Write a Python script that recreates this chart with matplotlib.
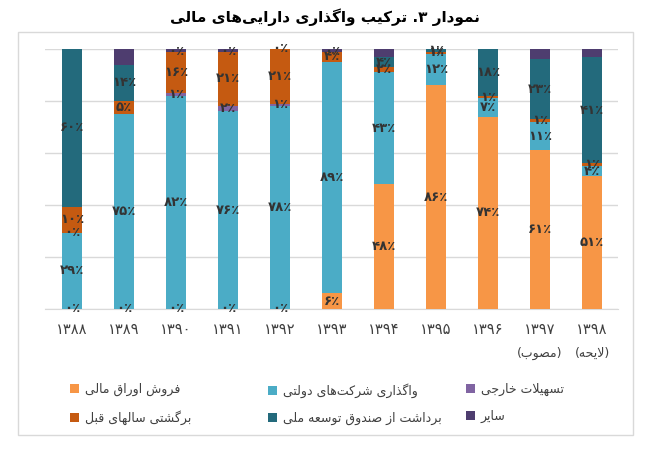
import re
import numpy as np
import matplotlib
matplotlib.use('Agg')
import matplotlib.pyplot as plt
from matplotlib.patches import Patch, Rectangle

# ---------------- data ----------------
years = ['۱۳۸۸', '۱۳۸۹', '۱۳۹۰', '۱۳۹۱', '۱۳۹۲', '۱۳۹۳', '۱۳۹۴', '۱۳۹۵', '۱۳۹۶', '۱۳۹۷', '۱۳۹۸']
year_notes = ['', '', '', '', '', '', '', '', '', '(مصوب)', '(لایحه)']
series_names = ['فروش اوراق مالی', 'واگذاری شرکت\u200cهای دولتی', 'تسهیلات خارجی',
                'برگشتی سالهای قبل', 'برداشت از صندوق توسعه ملی', 'سایر']
sales    = [0, 0, 0, 0, 0, 6, 48, 86, 74, 61, 51]
gov      = [29, 75, 82, 76, 78, 89, 43, 12, 7, 11, 4]
foreign  = [0, None, 1, 2, 1, None, None, None, None, None, None]
previous = [10, 5, 16, 21, 21, 4, 2, 1, 1, 1, 1]
ndf      = [60, 14, 0, 0, 0, 0, 4, 1, 18, 23, 41]
other    = [0, 6, 1, 1, 0, 1, 3, 0, 0, 4, 3]
title = 'نمودار ۳. ترکیب واگذاری دارایی\u200cهای مالی'

colors = ['#F79646', '#4BACC6', '#8064A2', '#C55A11', '#236A7C', '#4E3D6F']
show_labels = [True, True, True, True, True, False]

# ---------------- minimal Persian shaping ----------------
DUAL = {'ب': 0xFE8F, 'ت': 0xFE95, 'ث': 0xFE99, 'ج': 0xFE9D, 'ح': 0xFEA1, 'خ': 0xFEA5,
        'س': 0xFEB1, 'ش': 0xFEB5, 'ص': 0xFEB9, 'ض': 0xFEBD, 'ط': 0xFEC1, 'ظ': 0xFEC5,
        'ع': 0xFEC9, 'غ': 0xFECD, 'ف': 0xFED1, 'ق': 0xFED5, 'ل': 0xFEDD, 'م': 0xFEE1,
        'ن': 0xFEE5, 'ه': 0xFEE9, 'پ': 0xFB56, 'چ': 0xFB7A, 'ک': 0xFB8E, 'گ': 0xFB92,
        'ی': 0xFBFC}
RIGHT = {'ا': 0xFE8D, 'آ': 0xFE81, 'د': 0xFEA9, 'ذ': 0xFEAB, 'ر': 0xFEAD, 'ز': 0xFEAF,
         'ژ': 0xFB8A, 'و': 0xFEED, 'ة': 0xFE93}


def shape(s):
    s = s.replace('ي', 'ی').replace('ك', 'ک')
    out = []
    n = len(s)
    i = 0
    while i < n:
        c = s[i]
        prev = s[i - 1] if i > 0 else ''
        cp = prev in DUAL
        if c == 'ل' and i + 1 < n and s[i + 1] in ('ا', 'آ'):
            lig = {'ا': (0xFEFB, 0xFEFC), 'آ': (0xFEF5, 0xFEF6)}[s[i + 1]]
            out.append(chr(lig[1] if cp else lig[0]))
            i += 2
            continue
        if c in DUAL:
            nxt = s[i + 1] if i + 1 < n else ''
            cn = nxt in DUAL or nxt in RIGHT
            form = 3 if (cp and cn) else 1 if cp else 2 if cn else 0
            out.append(chr(DUAL[c] + form))
        elif c in RIGHT:
            out.append(chr(RIGHT[c] + (1 if cp else 0)))
        elif c == '\u200c':
            pass
        else:
            out.append(c)
        i += 1
    return ''.join(out)


def fa(s):
    rev = shape(s)[::-1]
    rev = re.sub(r'[0-9۰-۹]+', lambda m: m.group(0)[::-1], rev)
    return rev.translate(str.maketrans('()', ')('))


def fa_num(v):
    d = str(int(round(v))).translate(str.maketrans('0123456789', '۰۱۲۳۴۵۶۷۸۹'))
    return d + '٪'


plt.rcParams['font.family'] = ['DejaVu Sans']

fig = plt.figure(figsize=(6.5, 4.5), dpi=100)
ax = fig.add_axes([45 / 650, 1 - 309 / 450, (618 - 45) / 650, 260 / 450])

series = [sales, gov, foreign, previous, ndf, other]
arr = np.array([[np.nan if v is None else v for v in s] for s in series], dtype=float)
totals = np.nansum(arr, axis=0)
x = np.arange(len(years))
bottom = np.zeros(len(years))
for k, s in enumerate(arr):
    h = np.nan_to_num(s) / totals * 100
    ax.bar(x, h, bottom=bottom, width=0.4, color=colors[k], zorder=3, linewidth=0)
    if show_labels[k]:
        for i in range(len(years)):
            if not np.isnan(s[i]):
                ax.text(x[i], bottom[i] + h[i] / 2, fa_num(s[i]), ha='center', va='center',
                        fontsize=9.5, fontweight='bold', color='#333333', zorder=5)
    bottom += h

ax.set_xlim(-0.52, 10.5)
ax.set_ylim(0, 100)
ax.set_yticks([0, 20, 40, 60, 80, 100])
ax.yaxis.grid(True, color='#D9D9D9', linewidth=1, zorder=0)
ax.tick_params(axis='y', left=False, labelleft=False)
ax.tick_params(axis='x', length=0, pad=9, labelsize=10.5, colors='#404040')
ax.set_xticks(x)
ax.set_xticklabels(years)
for s in ['top', 'left', 'right']:
    ax.spines[s].set_visible(False)
ax.spines['bottom'].set_color('#D9D9D9')
for i, note in enumerate(year_notes):
    if note:
        ax.text(x[i], -17, fa(note), ha='center', va='center', fontsize=9,
                color='#404040', transform=ax.transData, clip_on=False)

fig.text(0.5, 1 - 17 / 450, fa(title), ha='center', va='center', fontsize=11,
         fontweight='bold', color='#000000')

fig.add_artist(Rectangle((18 / 650, 1 - 435 / 450), (633 - 18) / 650, (435 - 32) / 450,
                         transform=fig.transFigure, fill=False, edgecolor='#D9D9D9',
                         linewidth=1))

# legend: three equally spaced columns, two rows each
col_x = [70, 268, 466]
col_series = [[0, 3], [1, 4], [2, 5]]
for cx, ks in zip(col_x, col_series):
    handles = [Patch(facecolor=colors[k], edgecolor='none') for k in ks]
    labels = [fa(series_names[k]) for k in ks]
    fig.legend(handles, labels, loc='upper left', bbox_to_anchor=(cx / 650, 1 - 383 / 450),
               frameon=False, fontsize=9, handlelength=0.7, handleheight=0.7,
               handletextpad=0.5, labelspacing=1.1, labelcolor='#404040',
               borderpad=0, borderaxespad=0)

fig.savefig('out.png', dpi=100)
